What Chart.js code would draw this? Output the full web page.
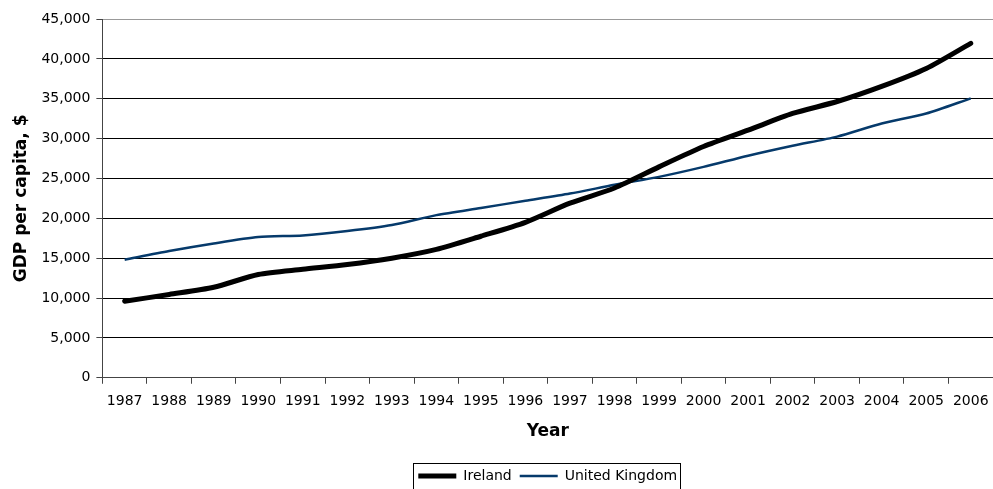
<!DOCTYPE html>
<html>

<head>
    <style>
        html, body {
            margin: 0;
            padding: 0;
            background: #fff;
            overflow: hidden;
        }
    </style>
</head>

<body>
    <canvas id="gdpChart" width="993" height="489"></canvas>

    <script src="https://cdn.jsdelivr.net/npm/chart.js@4/dist/chart.umd.min.js"></script>
    <script>
        const years = ['1987', '1988', '1989', '1990', '1991', '1992', '1993', '1994', '1995', '1996',
            '1997', '1998', '1999', '2000', '2001', '2002', '2003', '2004', '2005', '2006'];

        const ireland = [9600, 10450, 11350, 12950, 13600, 14200, 15000, 16100, 17750, 19500,
            21900, 23800, 26450, 29000, 31050, 33150, 34650, 36550, 38800, 41950];

        const unitedKingdom = [14800, 15900, 16850, 17650, 17850, 18400, 19150, 20400, 21300, 22200,
            23100, 24200, 25200, 26450, 27850, 29100, 30250, 31900, 33150, 35050];

        const yMin = 0;
        const yMax = 45000;
        const yStep = 5000;

        Chart.defaults.font.family = '"DejaVu Sans", Verdana, sans-serif';
        Chart.defaults.color = '#000';

        // box round the legend, as in the original spreadsheet chart
        const legendBorder = {
            id: 'legendBorder',
            afterDraw(chart) {
                const boxes = chart.legend.legendHitBoxes;
                if (!boxes || !boxes.length) return;
                const left = Math.min(...boxes.map(b => b.left)) - 5;
                const right = Math.max(...boxes.map(b => b.left + b.width)) + 3;
                const top = Math.min(...boxes.map(b => b.top)) - 6;
                const bottom = Math.max(...boxes.map(b => b.top + b.height)) + 12;
                const ctx = chart.ctx;
                ctx.save();
                ctx.strokeStyle = '#000';
                ctx.lineWidth = 1;
                ctx.strokeRect(Math.round(left) + 0.5, Math.round(top) + 0.5, Math.round(right - left), Math.round(bottom - top));
                ctx.restore();
            }
        };

        const context = document.getElementById('gdpChart').getContext('2d');
        const gdpChart = new Chart(context, {
            type: 'line',
            data: {
                labels: years,
                datasets: [{
                    label: 'Ireland',
                    data: ireland,
                    borderColor: '#000',
                    backgroundColor: '#000',
                    borderWidth: 5,
                    pointRadius: 0,
                    tension: 0.25,
                    borderCapStyle: 'round',
                    borderJoinStyle: 'round'
                }, {
                    label: 'United Kingdom',
                    data: unitedKingdom,
                    borderColor: '#063a6b',
                    backgroundColor: '#063a6b',
                    borderWidth: 2.5,
                    pointRadius: 0,
                    tension: 0.25,
                    borderJoinStyle: 'round'
                }]
            },
            options: {
                responsive: false,
                animation: false,
                devicePixelRatio: 1,
                layout: {
                    padding: { left: 11, right: 0, top: 19, bottom: -4 }
                },
                plugins: {
                    legend: {
                        position: 'bottom',
                        fullSize: false,
                        labels: {
                            usePointStyle: true,
                            pointStyle: 'line',
                            pointStyleWidth: 38,
                            boxHeight: 14,
                            padding: 8,
                            font: { size: 14 }
                        }
                    },
                    tooltip: { enabled: false }
                },
                scales: {
                    x: {
                        offset: true,
                        grid: {
                            offset: true,
                            drawOnChartArea: false,
                            drawTicks: true,
                            tickLength: 6,
                            color: '#444'
                        },
                        border: { color: '#444', width: 1 },
                        ticks: {
                            maxRotation: 0,
                            autoSkip: false,
                            // small padding keeps the last label from shrinking the plot;
                            // the taller line box moves the labels down instead
                            font: { size: 14, lineHeight: 2.06 },
                            padding: 3
                        },
                        title: {
                            display: true,
                            text: 'Year',
                            font: { size: 17, weight: 'bold' },
                            padding: { top: 3, bottom: 19 }
                        }
                    },
                    y: {
                        min: yMin,
                        max: yMax,
                        grid: {
                            color: ctx => ctx.tick && ctx.tick.value === yMax ? '#999' : '#000',
                            tickLength: 6,
                            tickColor: '#444'
                        },
                        border: { color: '#444', width: 1 },
                        ticks: {
                            stepSize: yStep,
                            font: { size: 14 },
                            padding: 6,
                            callback: v => v.toLocaleString('en-US')
                        },
                        title: {
                            display: true,
                            text: 'GDP per capita, $',
                            font: { size: 17, weight: 'bold' },
                            padding: { top: 0, bottom: 4 }
                        }
                    }
                }
            },
            plugins: [legendBorder]
        });
    </script>
</body>

</html>
